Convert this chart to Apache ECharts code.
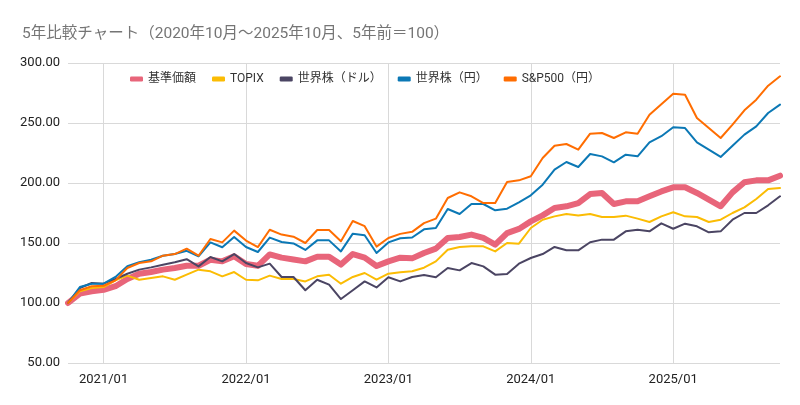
<!DOCTYPE html>
<html>
<head>
<meta charset="utf-8">
<script src="https://cdn.jsdelivr.net/npm/echarts@6/dist/echarts.min.js"></script>
<style>
html,body{margin:0;padding:0;background:#fff;}
#c{width:800px;height:405px;}
</style>
</head>
<body>
<div id="c"></div>
<script>
const titleText = '5年比較チャート（2020年10月～2025年10月、5年前＝100）';
const categories = [
 '2020/10','2020/11','2020/12',
 '2021/01','2021/02','2021/03','2021/04','2021/05','2021/06','2021/07','2021/08','2021/09','2021/10','2021/11','2021/12',
 '2022/01','2022/02','2022/03','2022/04','2022/05','2022/06','2022/07','2022/08','2022/09','2022/10','2022/11','2022/12',
 '2023/01','2023/02','2023/03','2023/04','2023/05','2023/06','2023/07','2023/08','2023/09','2023/10','2023/11','2023/12',
 '2024/01','2024/02','2024/03','2024/04','2024/05','2024/06','2024/07','2024/08','2024/09','2024/10','2024/11','2024/12',
 '2025/01','2025/02','2025/03','2025/04','2025/05','2025/06','2025/07','2025/08','2025/09','2025/10'
];
const seriesNames = ['基準価額','TOPIX','世界株（ドル）','世界株（円）','S&P500（円）'];
const fundNav = [100,107.8,109.7,111,114,120,124.4,125.8,127.8,129.2,131,131,136,134.7,139,132.5,131,140.5,137.8,136.2,134.7,138.6,138.6,132,140.8,137.8,130.8,134.7,137.8,137.2,141.7,145.3,154.2,155,157,154.2,148.6,158.3,161.7,168,173,179.2,180.6,183.3,190.8,191.7,182.5,184.7,184.7,188.9,193,196.4,196.4,191.7,186.1,180.6,192.2,200.6,202.2,202.2,206.1];
const topix = [100,109.7,112.5,113.3,118.9,122.8,119.4,120.8,122.2,119.4,123.6,127.8,126.4,122.2,125.8,119.4,118.9,122.8,120,120,118,122.2,123.6,116.1,121.7,125,119.4,124.4,125.6,126.4,129.4,134.7,144.4,146.7,147.2,147.2,143,150,149.4,162.5,169.4,172.2,174.2,173,174.2,171.7,171.7,172.8,170.3,167.5,172.2,175.6,172.2,171.7,167.5,169.4,175,179.7,186.7,195,195.8];
const worldUsd = [100,112.5,116.7,116.1,120,124.4,127.8,129.7,131.9,133.9,136.5,130.5,138.3,134.7,140.8,133.3,129.7,132.8,121.7,121.7,110.6,119.4,115.3,103.3,110.6,118,113,121.4,118,121.7,123.3,121.4,129.2,127.2,133.3,130.5,123.6,124.2,132.8,137.5,140.8,146.7,143.9,143.9,150.6,152.8,152.8,159.7,161.1,159.7,166.4,161.9,166.1,163.9,158.9,159.7,169.4,175,175,181.4,188.9];
const worldJpy = [100,113.3,116.1,116.1,121.7,130.6,133.9,136.1,139.4,140.8,143.5,138.9,150.5,146.5,155,146.7,142.5,154.5,150.8,149.6,144.2,152.2,152.2,143,157.8,156.5,141.7,150.5,154,154.6,161.4,162.5,178.3,174.2,182.5,182.5,177.2,178.6,183.9,189.7,198.6,211.1,217.5,213.3,224.2,222.2,217.2,223.6,222.2,233.9,239,246.4,245.8,233.9,227.8,221.7,231.1,240.3,247.2,258.3,265.3];
const sp500Jpy = [100,110.6,113.9,114.4,118.9,129.2,133.3,134.7,139.4,140.8,145.3,139.4,153.3,150.5,160.3,152,146.6,161,157,155.3,150,160.8,160.8,151.4,168.3,164,147,154.2,157.6,159.3,166.6,170.3,187.5,192.2,188.9,183.3,183.3,200.8,202.2,205.6,220.8,231,232.5,227.8,241.1,241.7,237.5,242.2,241.1,256.9,265.7,274.4,273.6,254.2,245.8,237.5,248.6,260.6,269.4,281.1,288.9];

const seriesData = [fundNav, topix, worldUsd, worldJpy, sp500Jpy];
const colors = ['#e8657a','#fbbc04','#4b4563','#0b78b5','#ff6d01'];
const widths = [6,2,2,2,2];

const chart = echarts.init(document.getElementById('c'), null, {renderer:'canvas'});
const isJan = (idx, val) => /\/01$/.test(val);
const option = {
  animation:false,
  backgroundColor:'#ffffff',
  textStyle:{fontFamily:'Roboto, "Noto Sans CJK JP", sans-serif'},
  title:{
    text:titleText, left:17, top:21,
    textStyle:{fontSize:15.5, fontWeight:'normal', color:'#757575', fontFamily:'Roboto, "Noto Sans CJK JP", sans-serif'}
  },
  legend:{
    data:seriesNames.map((n,i)=>({name:n, itemStyle:{color:colors[i]}})),
    left:125, top:68, icon:'roundRect', itemWidth:13, itemHeight:5, itemGap:16,
    textStyle:{fontSize:12, color:'#333', fontFamily:'Roboto, "Noto Sans CJK JP", sans-serif'}
  },
  grid:{left:68, right:20, top:63, bottom:42},
  xAxis:{
    type:'category', data:categories, boundaryGap:false,
    axisLine:{show:false}, axisTick:{show:false},
    axisLabel:{interval:isJan, color:'#222', fontSize:13, margin:10},
    splitLine:{show:true, interval:isJan, lineStyle:{color:'#d9d9d9', width:1}}
  },
  yAxis:{
    type:'value', min:50, max:300, interval:50,
    axisLine:{show:false}, axisTick:{show:false},
    axisLabel:{formatter:v=>v.toFixed(2), color:'#222', fontSize:13, margin:8},
    splitLine:{lineStyle:{color:'#d9d9d9', width:1}}
  },
  series:seriesNames.map((n,i)=>({
    name:n, type:'line', data:seriesData[i], symbol:'none',
    lineStyle:{color:colors[i], width:widths[i], join:'round', cap:'round'},
    itemStyle:{color:colors[i]}, z:2+i
  }))
};
chart.setOption(option);
</script>
</body>
</html>
